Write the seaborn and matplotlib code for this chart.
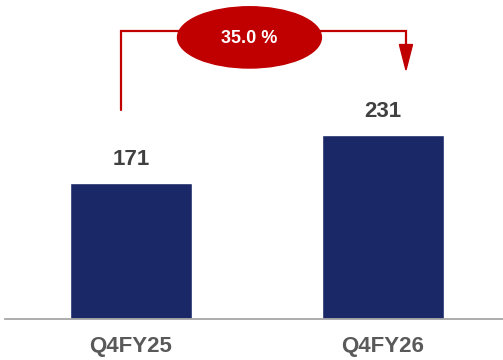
import matplotlib
matplotlib.use("Agg")
import matplotlib.pyplot as plt
from matplotlib.patches import Ellipse, Polygon
import seaborn as sns
import pandas as pd

# Quarterly values
quarters = ["Q4FY25", "Q4FY26"]
values = [171, 231]
growth_label = "35.0 %"

NAVY = "#1a2868"
RED = "#c00000"
LABEL_GREY = "#404040"
TICK_GREY = "#595959"

sns.set_theme(style="white")
plt.rcParams["font.family"] = ["Liberation Sans", "DejaVu Sans"]

df = pd.DataFrame({"quarter": quarters, "value": values})

fig = plt.figure(figsize=(5.03, 3.6), dpi=100)
ax = fig.add_axes([5 / 503, 41 / 360, 498 / 503, 319 / 360])

sns.barplot(data=df, x="quarter", y="value", color=NAVY, width=0.484,
            saturation=1, ax=ax)

ax.set_xlim(-0.5, 1.476)
ax.set_ylim(0, 401)

# value labels above the bars
for i, v in enumerate(values):
    ax.text(i, v + 30, f"{v}", ha="center", va="center", fontsize=16,
            fontweight="bold", color=LABEL_GREY)

# axis styling
for side in ["left", "right", "top"]:
    ax.spines[side].set_visible(False)
ax.spines["bottom"].set_color("#a6a6a6")
ax.spines["bottom"].set_linewidth(1.3)
ax.set_yticks([])
ax.set_xlabel("")
ax.set_ylabel("")
ax.tick_params(axis="x", length=0, pad=12.5)
for lbl in ax.get_xticklabels():
    lbl.set_fontsize(16)
    lbl.set_fontweight("bold")
    lbl.set_color(TICK_GREY)

# growth bracket connecting the two bars
top_y = 362
x_left, x_right = -0.04, 1.091
ax.plot([x_left, x_left, x_right, x_right],
        [values[0] + 92, top_y, top_y, values[1] + 113],
        color=RED, lw=1.6, solid_joinstyle="miter", zorder=3)
ax.add_patch(Polygon([[x_right - 0.026, values[1] + 114],
                      [x_right + 0.026, values[1] + 114],
                      [x_right, values[1] + 82]],
                     closed=True, color=RED, zorder=3))
ax.add_patch(Ellipse((0.47, 354), 0.571, 77, color=RED, zorder=4))
ax.text(0.47, 353, growth_label, ha="center", va="center", fontsize=13,
        fontweight="bold", color="white", zorder=5)

fig.savefig("out.png", dpi=100)
